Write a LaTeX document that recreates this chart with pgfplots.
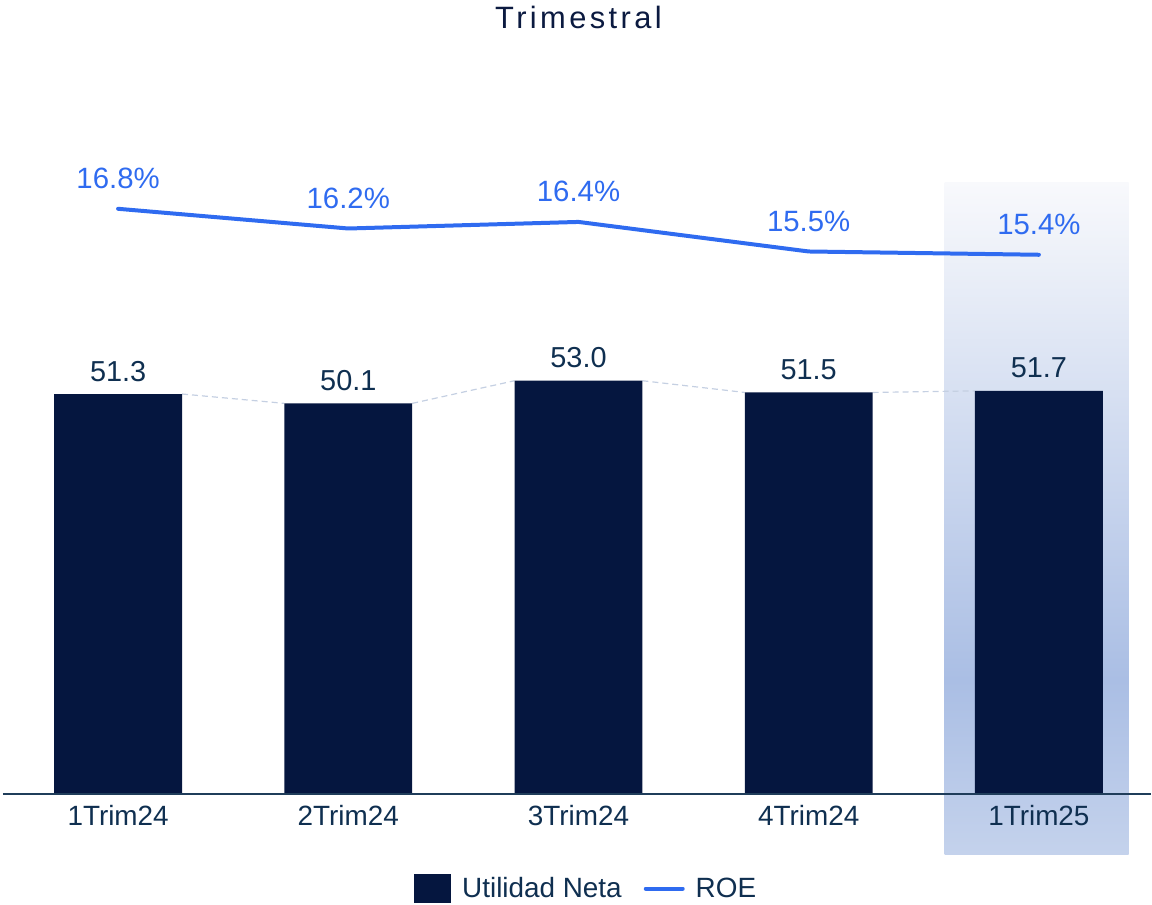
\documentclass[border=0pt]{standalone}
\usepackage{fontspec}
\setmainfont{Liberation Sans}
\usepackage{pgfplots}
\pgfplotsset{compat=1.18}
\definecolor{navy}{HTML}{05163F}
\definecolor{labcol}{HTML}{0F2F50}
\definecolor{titcol}{HTML}{0B1A40}
\definecolor{roeblue}{HTML}{2F6BF0}
\definecolor{dashcol}{HTML}{C5D0E2}
\definecolor{axcol}{HTML}{1F3D5A}
\definecolor{hltop}{HTML}{F8F9FC}
\definecolor{hlmid}{HTML}{AABEE4}
\definecolor{hlbot}{HTML}{C4D2EC}
\pgfdeclareverticalshading{hl}{100bp}{color(0bp)=(hlbot); color(25bp)=(hlbot); color(38bp)=(hlmid); color(75bp)=(hltop); color(100bp)=(hltop)}
\begin{document}
\begin{tikzpicture}
\begin{axis}[
  name=ax, scale only axis, width=1149bp, height=695bp,
  xmin=-0.5, xmax=4.487, ymin=0, ymax=88.99,
  axis x line*=bottom, axis y line=none,
  x axis line style={draw=axcol, line width=2bp},
  axis on top, clip=false,
  xtick={0,1,2,3,4},
  xticklabels={1Trim24,2Trim24,3Trim24,4Trim24,1Trim25},
  major tick length=0pt, xtick style={draw=none},
  xticklabel style={font=\fontsize{28}{28}\selectfont, text=labcol, anchor=base, yshift=-31bp, inner sep=0pt},
  ytick=\empty,
  legend style={at={(0.508,-0.135)}, anchor=center, draw=none, fill=none,
    font=\fontsize{28}{28}\selectfont, text=labcol,
    /tikz/every odd column/.append style={column sep=9bp},
    /tikz/every even column/.append style={column sep=20bp}},
  legend columns=2,
]
\fill[shading=hl] (axis cs:3.59,-7.68) rectangle (axis cs:4.39,78.36);
\addplot[dashcol, line width=1.2bp, dash pattern=on 6bp off 4bp, forget plot] coordinates {(0.2778,51.3) (0.7222,50.1)};
\addplot[dashcol, line width=1.2bp, dash pattern=on 6bp off 4bp, forget plot] coordinates {(1.2778,50.1) (1.7222,53.0)};
\addplot[dashcol, line width=1.2bp, dash pattern=on 6bp off 4bp, forget plot] coordinates {(2.2778,53.0) (2.7222,51.5)};
\addplot[dashcol, line width=1.2bp, dash pattern=on 6bp off 4bp, forget plot] coordinates {(3.2778,51.5) (3.7222,51.7)};
\addplot[ybar, bar width=0.5556, fill=navy, draw=none,
  legend image code/.code={\fill[navy] (0bp,-14bp) rectangle (37bp,15bp);},
  point meta=explicit symbolic, nodes near coords,
  every node near coord/.style={anchor=base, yshift=13bp, inner sep=0pt, font=\fontsize{29}{29}\selectfont, text=labcol}]
  coordinates {(0,51.3) [51.3] (1,50.1) [50.1] (2,53.0) [53.0] (3,51.5) [51.5] (4,51.7) [51.7]};
\addlegendentry{Utilidad Neta}
\addlegendimage{legend image code/.code={\draw[roeblue, line width=4bp, line cap=round] (0bp,0bp) -- (37bp,0bp);}}
\addlegendentry{ROE}
\end{axis}
\begin{axis}[
  scale only axis, width=1149bp, height=695bp,
  xmin=-0.5, xmax=4.487, ymin=-1.033, ymax=20.117,
  axis lines=none, ticks=none, clip=false,
]
\addplot[roeblue, line width=4bp, line cap=round, line join=round, mark=none,
  point meta=explicit symbolic, nodes near coords,
  every node near coord/.style={anchor=base, yshift=20bp, inner sep=0pt, font=\fontsize{29.5}{29.5}\selectfont, text=roeblue}]
  coordinates {(0,16.8) [16.8\%] (1,16.2) [16.2\%] (2,16.4) [16.4\%] (3,15.5) [15.5\%] (4,15.4) [15.4\%]};
\end{axis}
\node[anchor=base, font=\fontsize{31}{31}\selectfont\addfontfeatures{LetterSpace=11}, text=titcol, inner sep=0pt] at (576bp,766bp) {Trimestral};
\path[use as bounding box] (-3bp,-110bp) rectangle (1149bp,795bp);
\end{tikzpicture}
\end{document}
